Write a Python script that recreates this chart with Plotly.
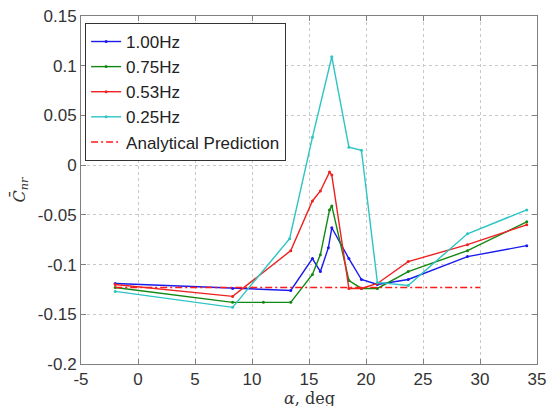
import plotly.graph_objects as go

alpha_blue = [-2, 8.3, 13.4, 15.3, 16.0, 16.7, 17.0, 18.5, 19.6, 21.0, 23.7, 28.9, 34.1]
cnr_blue = [-0.119, -0.124, -0.126, -0.094, -0.107, -0.083, -0.063, -0.094, -0.115, -0.120, -0.115, -0.092, -0.081]

alpha_green = [-2, 8.3, 11.0, 13.4, 15.3, 16.0, 16.8, 17.0, 18.5, 19.6, 21.0, 23.7, 28.9, 34.1]
cnr_green = [-0.123, -0.138, -0.138, -0.138, -0.110, -0.090, -0.045, -0.041, -0.116, -0.124, -0.124, -0.107, -0.086, -0.057]

alpha_red = [-2, 8.3, 13.4, 15.3, 16.0, 16.8, 17.0, 18.5, 19.6, 21.0, 23.7, 28.9, 34.1]
cnr_red = [-0.120, -0.132, -0.086, -0.036, -0.026, -0.007, -0.010, -0.124, -0.124, -0.119, -0.097, -0.080, -0.060]

alpha_cyan = [-2, 8.3, 13.3, 15.3, 17.0, 18.5, 19.6, 21.0, 23.7, 28.9, 34.1]
cnr_cyan = [-0.127, -0.143, -0.074, 0.028, 0.109, 0.018, 0.015, -0.118, -0.121, -0.069, -0.045]

alpha_pred = [-2, 30]
cnr_pred = [-0.123, -0.123]

x_ticks = [-5, 0, 5, 10, 15, 20, 25, 30, 35]
x_ticklabels = ["-5", "0", "5", "10", "15", "20", "25", "30", "35"]
y_ticks = [-0.2, -0.15, -0.1, -0.05, 0, 0.05, 0.1, 0.15]
y_ticklabels = ["-0.2", "-0.15", "-0.1", "-0.05", "0", "0.05", "0.1", "0.15"]

series = [
    ("1.00Hz", alpha_blue, cnr_blue, "#1a1aee"),
    ("0.75Hz", alpha_green, cnr_green, "#118811"),
    ("0.53Hz", alpha_red, cnr_red, "#ee2222"),
    ("0.25Hz", alpha_cyan, cnr_cyan, "#2ec4c4"),
]

fig = go.Figure()
for name, xs, ys, col in series:
    fig.add_trace(go.Scatter(x=xs, y=ys, name=name, mode="lines+markers",
                             line=dict(color=col, width=1.4),
                             marker=dict(color=col, size=3)))
fig.add_trace(go.Scatter(x=alpha_pred, y=cnr_pred, name="Analytical Prediction", mode="lines",
                         line=dict(color="#ff1a1a", width=1.5, dash="7px,3px,2px,3px")))

axis_common = dict(showgrid=True, gridcolor="#c8c8c8", griddash="dot", gridwidth=1,
                   showline=True, linecolor="#808080", linewidth=1, mirror="ticks",
                   ticks="inside", ticklen=5, tickcolor="#808080", zeroline=False,
                   automargin=False,
                   tickfont=dict(family="Liberation Sans, Arial", size=17, color="#333333"))

fig.update_xaxes(range=[-5, 35], tickvals=x_ticks, ticktext=x_ticklabels, **axis_common)
fig.update_yaxes(range=[-0.2, 0.15], tickvals=y_ticks, ticktext=y_ticklabels,
                 title=dict(text="<i>C̄</i><sub><i>nr</i></sub>", standoff=8,
                            font=dict(family="DejaVu Serif, serif", size=16, color="#333333")),
                 **axis_common)

fig.add_annotation(text="<i>α</i>, deg", xref="paper", yref="paper", x=0.5, y=-0.098,
                   xanchor="center", yanchor="middle", showarrow=False,
                   font=dict(family="DejaVu Serif, serif", size=16, color="#333333"))

fig.update_layout(
    width=550, height=406,
    margin=dict(l=81, r=13, t=16, b=42),
    plot_bgcolor="white", paper_bgcolor="white",
    legend=dict(x=0.009, y=0.98, xanchor="left", yanchor="top",
                bgcolor="white", bordercolor="#333333", borderwidth=1,
                font=dict(family="Liberation Sans, Arial", size=17, color="#222222"),
                tracegroupgap=0, itemwidth=30),
    showlegend=True,
)

fig.write_html("out.html", config={"displayModeBar": False},
               post_script="document.body.style.margin='0';")
